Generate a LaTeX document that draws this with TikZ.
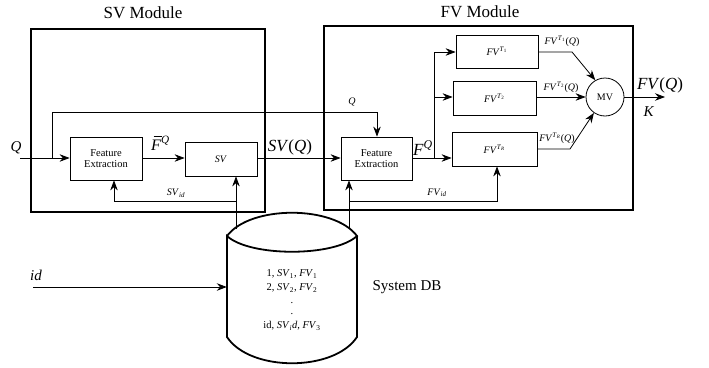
\documentclass[tikz,border=0pt]{standalone}
\usepackage{fontspec}
\setmainfont{Liberation Serif}
\usetikzlibrary{arrows.meta,calc}
\newcommand{\ti}[1]{\textit{#1}}
\newcommand{\sups}[1]{\textsuperscript{#1}}
\newcommand{\subs}[1]{\textsubscript{#1}}
\begin{document}
\begin{tikzpicture}[x=1pt,y=-1pt,
  arr/.style={-{Stealth[length=10pt,width=7.5pt]},line width=0.8pt},
  modbox/.style={draw,line width=1.8pt,inner sep=0pt},
  blk/.style={draw,line width=0.8pt,inner sep=0pt,align=center},
  fsz/.style={font=\fontsize{#1}{#1}\selectfont},
  lbl/.style={inner sep=0pt}]
\useasboundingbox (0,0) rectangle (709,367);
% modules
\node[modbox,minimum width=234pt,minimum height=183pt] (svmod) at (148,120.5) {};
\node[modbox,minimum width=309pt,minimum height=184pt] (fvmod) at (478.5,118) {};
\node[lbl,fsz=17] (svt) at (143,13) {SV Module};
\node[lbl,fsz=17] (fvt) at (480,12) {FV Module};
% SV blocks
\node[blk,minimum width=72pt,minimum height=43pt,fsz=10.5,text width=70pt] (svfe) at (106,158.5) {Feature\\[1pt]Extraction};
\node[blk,minimum width=72pt,minimum height=34pt,fsz=10] (sv) at (221,159) {\ti{SV}};
% FV blocks
\node[blk,minimum width=71pt,minimum height=43pt,fsz=10.5,text width=69pt] (fvfe) at (376.5,158.5) {Feature\\[1pt]Extraction};
\node[blk,minimum width=82pt,minimum height=33pt,fsz=10] (t1) at (497,51.5) {\ti{FV}\sups{\ti{T}\subs{1}}};
\node[blk,minimum width=83pt,minimum height=34pt,fsz=10] (t2) at (494.5,98) {\ti{FV}\sups{\ti{T}\subs{2}}};
\node[blk,minimum width=85pt,minimum height=34pt,fsz=10] (tr) at (494.5,149) {\ti{FV}\sups{\ti{T}\subs{\ti{R}}}};
\node[draw,circle,line width=0.8pt,minimum size=38pt,inner sep=0pt,fsz=10] (mv) at (605,97) {MV};
% DB
\node[lbl,minimum width=130pt,minimum height=100pt,align=center,font=\fontsize{10.5}{14}\selectfont] (db) at (292,300)
  {1, \ti{SV}\subs{1}, \ti{FV}\subs{1}\\2, \ti{SV}\subs{2}, \ti{FV}\subs{2}\\[-1pt].\\[-3pt].\\id, \ti{SV}\subs{\ti{i}}\ti{d}, \ti{FV}\subs{3}};
\draw[line width=1.8pt] (227,236) .. controls (250,205) and (334,205) .. (357,236)
  .. controls (334,257) and (250,257) .. (227,236) -- (227,337)
  .. controls (250,372) and (334,372) .. (357,337) -- (357,236);
\node[lbl,fsz=15] (sdb) at (407,287) {System DB};
% coordinates
\coordinate (qin) at (20,158);
\coordinate (qb) at (52,158);
\coordinate (idin) at (33,287);
\coordinate (dbsv) at (236,229);
\coordinate (dbfv) at (349,229);
\coordinate (fvout) at (665,97);
% Q input
\draw[arr] (qin) -- (svfe.west |- qin);
\draw[arr] (qb) -- (52,112) -- (377,112) -- (fvfe.north -| 377,0);
\node[lbl,fsz=15] (ql) at (16,148) {\ti{Q}};
\node[lbl,fsz=10] (ql2) at (352,102) {\ti{Q}};
% SV chain
\draw[arr] (svfe.east |- 0,158) -- (sv.west |- 0,158);
\node[lbl,fsz=16,anchor=base west] (fbar) at (151,150) {\ti{F}\sups{\ti{Q}}};
\draw[line width=0.6pt] ([xshift=2.5pt,yshift=13.5pt]fbar.base west) -- ++(8,0);
\draw[arr] (sv.east |- 0,158) -- (fvfe.west |- 0,158);
\node[lbl,fsz=17] (svq) at (290,147) {\ti{SV}(\ti{Q})};
% SV_id
\draw[arr] (dbsv) -- (sv.south -| dbsv);
\draw[arr] (236,201) -- (114,201) -- (svfe.south -| 114,0);
\node[lbl,fsz=10] (svid) at (176,193) {\ti{SV}\subs{\ti{id}}};
% FV_id
\draw[arr] (dbfv) -- (fvfe.south -| dbfv);
\draw[arr] (349,201) -- (497,201) -- (tr.south -| 497,0);
\node[lbl,fsz=10] (fvid) at (437,193) {\ti{FV}\subs{\ti{id}}};
% FV split
\draw[arr] (fvfe.east |- 0,158) -- (tr.west |- 0,158);
\draw[arr] (434,158) -- (434,52) -- (t1.west |- 0,52);
\draw[arr] (434,97) -- (t2.west |- 0,97);
\node[lbl,fsz=17] (fq) at (423,148) {\ti{F}\sups{\ti{Q}}};
% to MV
\draw[arr] (t1.east |- 0,52) -- (572,52) -- (mv.120);
\draw[arr] (t2.east |- mv.west) -- (mv.west);
\draw[arr] (tr.east |- 0,149) -- (570,149) -- (mv.235);
\node[lbl,fsz=10] (l1) at (562,41) {\ti{FV}\sups{\ti{T}\subs{1}}(\ti{Q})};
\node[lbl,fsz=10] (l2) at (561,87) {\ti{FV}\sups{\ti{T}\subs{2}}(\ti{Q})};
\node[lbl,fsz=10] (l3) at (557,138) {\ti{FV}\sups{\ti{T}\subs{\ti{R}}}(\ti{Q})};
\draw[arr] (mv.east) -- (fvout);
\node[lbl,fsz=17] (fvq) at (660,85) {\ti{FV}(\ti{Q})};
\node[lbl,fsz=15] (kl) at (649,112) {\ti{K}};
% id
\draw[arr] (idin) -- (db.west |- idin);
\node[lbl,fsz=15] (idl) at (36,275) {\ti{id}};
\end{tikzpicture}
\end{document}
